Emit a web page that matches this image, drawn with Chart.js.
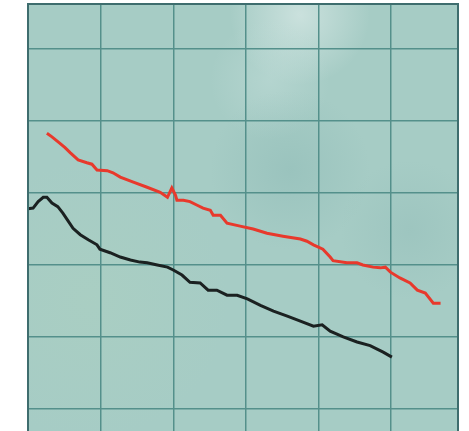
<!DOCTYPE html>
<html>
<head>
<meta charset="utf-8">
<script src="https://cdn.jsdelivr.net/npm/chart.js@4.4.1/dist/chart.umd.min.js"></script>
<style>
  html, body { margin: 0; padding: 0; background: #fff; }
  #wrap { width: 469px; height: 431px; }
</style>
</head>
<body>
<div id="wrap"><canvas id="trendChart" width="469" height="431"></canvas></div>
<script>
// curve values (x, y in grid units of 10)
const redX = [2.6, 3.3, 4.4, 5.1, 5.8, 6.9, 8.1, 8.8, 9.5, 10.9, 11.7, 12.7, 14.5, 16.4, 18.2, 19.2, 19.8, 20.3, 20.5, 21.4, 22.3, 23.3, 24.1, 25.1, 25.5, 26.5, 27.4, 29.2, 31.0, 32.9, 35.1, 37.5, 38.4, 39.3, 40.6, 41.6, 42.0, 43.9, 45.3, 46.1, 47.5, 48.5, 49.2, 49.9, 51.2, 52.6, 53.6, 54.7, 55.8, 56.8];
const redY = [38.3, 37.8, 36.9, 36.3, 35.6, 34.6, 34.2, 34.0, 33.2, 33.1, 32.8, 32.2, 31.5, 30.8, 30.1, 29.4, 30.7, 29.7, 29.0, 29.0, 28.8, 28.3, 27.9, 27.6, 26.9, 26.9, 25.8, 25.4, 25.0, 24.4, 24.0, 23.6, 23.3, 22.8, 22.2, 21.1, 20.6, 20.3, 20.3, 20.0, 19.7, 19.6, 19.7, 19.0, 18.2, 17.5, 16.5, 16.1, 14.7, 14.7];

const blackX = [0, 0.7, 1.4, 2.1, 2.6, 3.3, 4.1, 4.8, 5.4, 6.2, 7.2, 8.3, 9.5, 9.9, 11.3, 12.7, 14.1, 15.4, 16.4, 17.8, 19.2, 20.0, 21.2, 22.3, 23.7, 24.8, 26.0, 27.4, 28.8, 30.2, 32.0, 33.8, 35.7, 37.5, 39.3, 40.5, 41.6, 43.4, 45.3, 47.1, 48.9, 50.1];
const blackY = [27.8, 27.9, 28.8, 29.4, 29.4, 28.6, 28.1, 27.2, 26.3, 25.1, 24.2, 23.5, 22.8, 22.2, 21.7, 21.1, 20.7, 20.4, 20.3, 20.0, 19.7, 19.3, 18.6, 17.6, 17.5, 16.5, 16.5, 15.8, 15.8, 15.3, 14.4, 13.6, 12.9, 12.2, 11.5, 11.7, 10.8, 10.0, 9.3, 8.8, 7.9, 7.2];

const xRange = [0, 59.2];
const yRange = [-3.06, 56.25];

function pairs(xs, ys) {
  return xs.map((x, i) => ({ x: x, y: ys[i] }));
}

// soft patch of colour on the chart area
function patch(ctx, a, cx, cy, r, rgb, alpha) {
  const g = ctx.createRadialGradient(cx, cy, 2, cx, cy, r);
  g.addColorStop(0, 'rgba(' + rgb + ',' + alpha + ')');
  g.addColorStop(1, 'rgba(' + rgb + ',0)');
  ctx.fillStyle = g;
  ctx.fillRect(a.left, a.top, a.right - a.left, a.bottom - a.top);
}

// photo-like teal background and dark frame
const paperPlugin = {
  id: 'paper',
  beforeDraw(chart) {
    const { ctx, chartArea: a } = chart;
    ctx.save();
    ctx.fillStyle = '#a6ccc5';
    ctx.fillRect(a.left, a.top, a.right - a.left, a.bottom - a.top);
    patch(ctx, a, 90, 300, 140, '175,210,190', 0.35);
    patch(ctx, a, 300, 15, 70, '225,238,236', 0.6);
    patch(ctx, a, 270, 80, 60, '205,228,225', 0.35);
    patch(ctx, a, 290, 170, 80, '120,170,168', 0.25);
    patch(ctx, a, 410, 230, 70, '125,172,170', 0.2);
    ctx.restore();
  },
  afterDraw(chart) {
    const { ctx, chartArea: a } = chart;
    ctx.save();
    ctx.strokeStyle = '#3e6d6e';
    ctx.lineWidth = 2;
    ctx.beginPath();
    ctx.moveTo(a.left, a.bottom);
    ctx.lineTo(a.left, a.top);
    ctx.lineTo(a.right, a.top);
    ctx.lineTo(a.right, a.bottom);
    ctx.stroke();
    ctx.restore();
  }
};

function onlyTens(scale) {
  scale.ticks = scale.ticks.filter(t => Math.abs(t.value % 10) < 1e-6);
}

function hideSize(scale) {
  scale.width = scale.isHorizontal() ? scale.width : 0;
  scale.height = scale.isHorizontal() ? 0 : scale.height;
}

const ctx = document.getElementById('trendChart');
const myChart = new Chart(ctx, {
  type: 'line',
  data: {
    datasets: [{
      data: pairs(redX, redY),
      borderColor: '#e8392c',
      borderWidth: 3,
      pointRadius: 0,
      tension: 0
    }, {
      data: pairs(blackX, blackY),
      borderColor: '#1b2121',
      borderWidth: 3,
      pointRadius: 0,
      tension: 0
    }]
  },
  plugins: [paperPlugin],
  options: {
    responsive: false,
    animation: false,
    layout: { padding: { left: 28, top: 4, right: 11, bottom: 0 } },
    plugins: { legend: { display: false }, tooltip: { enabled: false } },
    scales: {
      x: {
        type: 'linear',
        min: xRange[0],
        max: xRange[1],
        ticks: { display: false, stepSize: 10 },
        grid: { color: '#54908b', lineWidth: 1.5, drawTicks: false },
        border: { display: false },
        afterBuildTicks: onlyTens,
        afterFit: hideSize
      },
      y: {
        type: 'linear',
        min: yRange[0],
        max: yRange[1],
        ticks: { display: false, stepSize: 10 },
        grid: { color: '#54908b', lineWidth: 1.5, drawTicks: false },
        border: { display: false },
        afterBuildTicks: onlyTens,
        afterFit: hideSize
      }
    }
  }
});
</script>
</body>
</html>
